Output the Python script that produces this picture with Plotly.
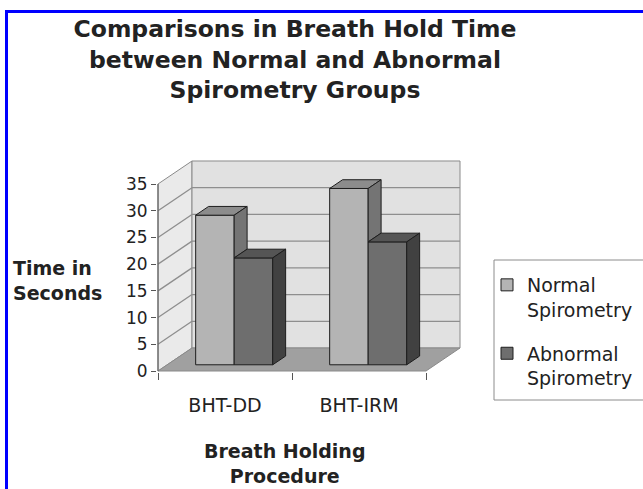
import plotly.graph_objects as go

# ---------------- data ----------------
categories = ["BHT-DD", "BHT-IRM"]
series_names = ["Normal<br>Spirometry", "Abnormal<br>Spirometry"]
normal_values = [28, 33]
abnormal_values = [20, 23]
y_tick_values = [0, 5, 10, 15, 20, 25, 30, 35]
title_text = "<b>Comparisons in Breath Hold Time<br>between Normal and Abnormal<br>Spirometry Groups</b>"
x_title_text = "<b>Breath Holding<br>Procedure</b>"
y_title_text = "<b>Time in<br>Seconds</b>"

series_values = [normal_values, abnormal_values]
front_colors = ["#b4b4b4", "#6e6e6e"]
top_colors = ["#8c8c8c", "#555555"]
side_colors = ["#747474", "#414141"]
outline = "#1e1e1e"
FONT = "DejaVu Sans"
TXT = "#222222"

# ---------------- layout geometry (pixels) ----------------
W, H = 643, 489
PX0, PXU = 158.0, 134.0      # pixel of category -0.5, pixels per category
PY0, PYU = 371.0, 5.343      # pixel of value 0, pixels per value unit
DX = 34.0 / PXU              # full depth offset in x units
DY = 23.0 / PYU              # full depth offset in y units
D0, D1 = 0.27, 0.65          # bar depth range (fraction of full depth)
GROUP = 0.575
n_cat = len(categories)
n_ser = len(series_values)
BW = GROUP / n_ser

plot_left, plot_right, plot_top, plot_bottom = 157, 463, 150, 372
xr0 = -0.5 - (PX0 - plot_left) / PXU
xr1 = xr0 + (plot_right - plot_left) / PXU
yr0 = -(plot_bottom - PY0) / PYU
yr1 = (PY0 - plot_top) / PYU
pw = plot_right - plot_left
ph = plot_bottom - plot_top


def paper_x(px):
    return (px - plot_left) / pw


def paper_y(py):
    return (plot_bottom - py) / ph


def path(points):
    return "M " + " L ".join(f"{x:.5f},{y:.5f}" for x, y in points) + " Z"


fig = go.Figure()

# ---------------- walls / floor / gridlines (chart furniture) ----------------
x_lo, x_hi = -0.5, n_cat - 0.5
vmax = max(y_tick_values)
shapes = []
# left side wall
shapes.append(dict(type="path", xref="x", yref="y", layer="below",
                   path=path([(x_lo, 0), (x_lo + DX, DY), (x_lo + DX, vmax + DY), (x_lo, vmax)]),
                   fillcolor="#eaeaea", line=dict(color="#8a8a8a", width=1)))
# back wall
shapes.append(dict(type="path", xref="x", yref="y", layer="below",
                   path=path([(x_lo + DX, DY), (x_hi + DX, DY), (x_hi + DX, vmax + DY), (x_lo + DX, vmax + DY)]),
                   fillcolor="#e1e1e1", line=dict(color="#8a8a8a", width=1)))
# gridlines
for v in y_tick_values[1:-1]:
    shapes.append(dict(type="line", xref="x", yref="y", layer="below",
                       x0=x_lo + DX, y0=v + DY, x1=x_hi + DX, y1=v + DY,
                       line=dict(color="#8e8e8e", width=1.3)))
    shapes.append(dict(type="line", xref="x", yref="y", layer="below",
                       x0=x_lo, y0=v, x1=x_lo + DX, y1=v + DY,
                       line=dict(color="#8e8e8e", width=1.3)))
# floor
shapes.append(dict(type="path", xref="x", yref="y", layer="below",
                   path=path([(x_lo, 0), (x_hi, 0), (x_hi + DX, DY), (x_lo + DX, DY)]),
                   fillcolor="#a0a0a0", line=dict(color="#8a8a8a", width=1)))
# front value axis line
shapes.append(dict(type="line", xref="x", yref="y", layer="below",
                   x0=x_lo, y0=0, x1=x_lo, y1=vmax,
                   line=dict(color="#555555", width=1)))

# ---------------- bars: front faces ----------------
shift_x = D0 * DX
base_y = D0 * DY
for s, vals in enumerate(series_values):
    fig.add_trace(go.Bar(
        x=[i + shift_x for i in range(n_cat)], y=vals, base=[base_y] * n_cat,
        width=BW, offset=-GROUP / 2 + s * BW,
        marker=dict(color=front_colors[s], line=dict(color=outline, width=1)),
        name=series_names[s], legendgroup=f"g{s}", hoverinfo="skip"))

# ---------------- bars: top and side faces ----------------
ex = (D1 - D0) * DX
ey = (D1 - D0) * DY
for i in range(n_cat):
    for s, vals in enumerate(series_values):
        a = i + shift_x - GROUP / 2 + s * BW
        b = a + BW
        top = base_y + vals[i]
        # top face
        pts = [(a, top), (b, top), (b + ex, top + ey), (a + ex, top + ey), (a, top)]
        fig.add_trace(go.Scatter(x=[p[0] for p in pts], y=[p[1] for p in pts], mode="lines",
                                 fill="toself", fillcolor=top_colors[s],
                                 line=dict(color=outline, width=1), showlegend=False, hoverinfo="skip"))
        # side face (part not hidden by the next bar to the right)
        low = base_y + (series_values[s + 1][i] if s + 1 < n_ser else 0)
        low = min(low, top)
        if low < top:
            pts = [(b, low), (b + ex, low + ey), (b + ex, top + ey), (b, top), (b, low)]
            fig.add_trace(go.Scatter(x=[p[0] for p in pts], y=[p[1] for p in pts], mode="lines",
                                     fill="toself", fillcolor=side_colors[s],
                                     line=dict(color=outline, width=1), showlegend=False, hoverinfo="skip"))

# ---------------- decoration: blue frame and legend box ----------------
shapes.append(dict(type="line", xref="paper", yref="paper",
                   x0=paper_x(6.5), y0=paper_y(10), x1=paper_x(6.5), y1=paper_y(495),
                   line=dict(color="#0000ff", width=3)))
shapes.append(dict(type="line", xref="paper", yref="paper",
                   x0=paper_x(5), y0=paper_y(11.5), x1=paper_x(650), y1=paper_y(11.5),
                   line=dict(color="#0000ff", width=3)))
shapes.append(dict(type="rect", xref="paper", yref="paper",
                   x0=paper_x(494), y0=paper_y(260), x1=paper_x(660), y1=paper_y(400),
                   line=dict(color="#8c8c8c", width=1), fillcolor="rgba(0,0,0,0)"))

annotations = [
    dict(text=y_title_text, xref="paper", yref="paper", x=paper_x(11), y=paper_y(280),
         xanchor="left", yanchor="middle", align="left", showarrow=False,
         font=dict(family=FONT, size=19, color=TXT)),
    dict(text=x_title_text, xref="paper", yref="paper", x=paper_x(285), y=paper_y(463),
         xanchor="center", yanchor="middle", align="center", showarrow=False,
         font=dict(family=FONT, size=19, color=TXT)),
]

fig.update_layout(
    width=W, height=H, autosize=False,
    margin=dict(l=plot_left, r=W - plot_right, t=plot_top, b=H - plot_bottom, pad=0),
    paper_bgcolor="white", plot_bgcolor="white",
    barmode="overlay",
    title=dict(text=title_text, xref="container", yref="container",
               x=295 / W, xanchor="center", y=1 - 37 / H, yanchor="top",
               font=dict(family=FONT, size=23.5, color=TXT)),
    showlegend=True,
    legend=dict(xref="container", yref="container", x=487 / W, y=1 - 266 / H,
                xanchor="left", yanchor="top", bgcolor="rgba(0,0,0,0)", borderwidth=0,
                font=dict(family=FONT, size=19, color=TXT), valign="top",
                traceorder="grouped", tracegroupgap=16),
    shapes=shapes,
    annotations=annotations,
    xaxis=dict(range=[xr0, xr1], showgrid=False, zeroline=False, showline=False,
               tickmode="array", tickvals=list(range(n_cat)), ticktext=categories,
               ticks="", ticklabelstandoff=20,
               tickfont=dict(family=FONT, size=19, color=TXT),
               minor=dict(tickmode="array", tickvals=[k - 0.5 for k in range(n_cat + 1)],
                          ticks="outside", ticklen=7, tickcolor="#555555", tickwidth=1,
                          showgrid=False)),
    yaxis=dict(range=[yr0, yr1], showgrid=False, zeroline=False, showline=False,
               tickmode="array", tickvals=y_tick_values,
               ticks="outside", ticklen=5, tickcolor="#555555", tickwidth=1,
               tickfont=dict(family=FONT, size=17, color=TXT)),
)

fig.write_html("out.html", config={"displayModeBar": False},
               post_script="document.body.style.margin='0';")
